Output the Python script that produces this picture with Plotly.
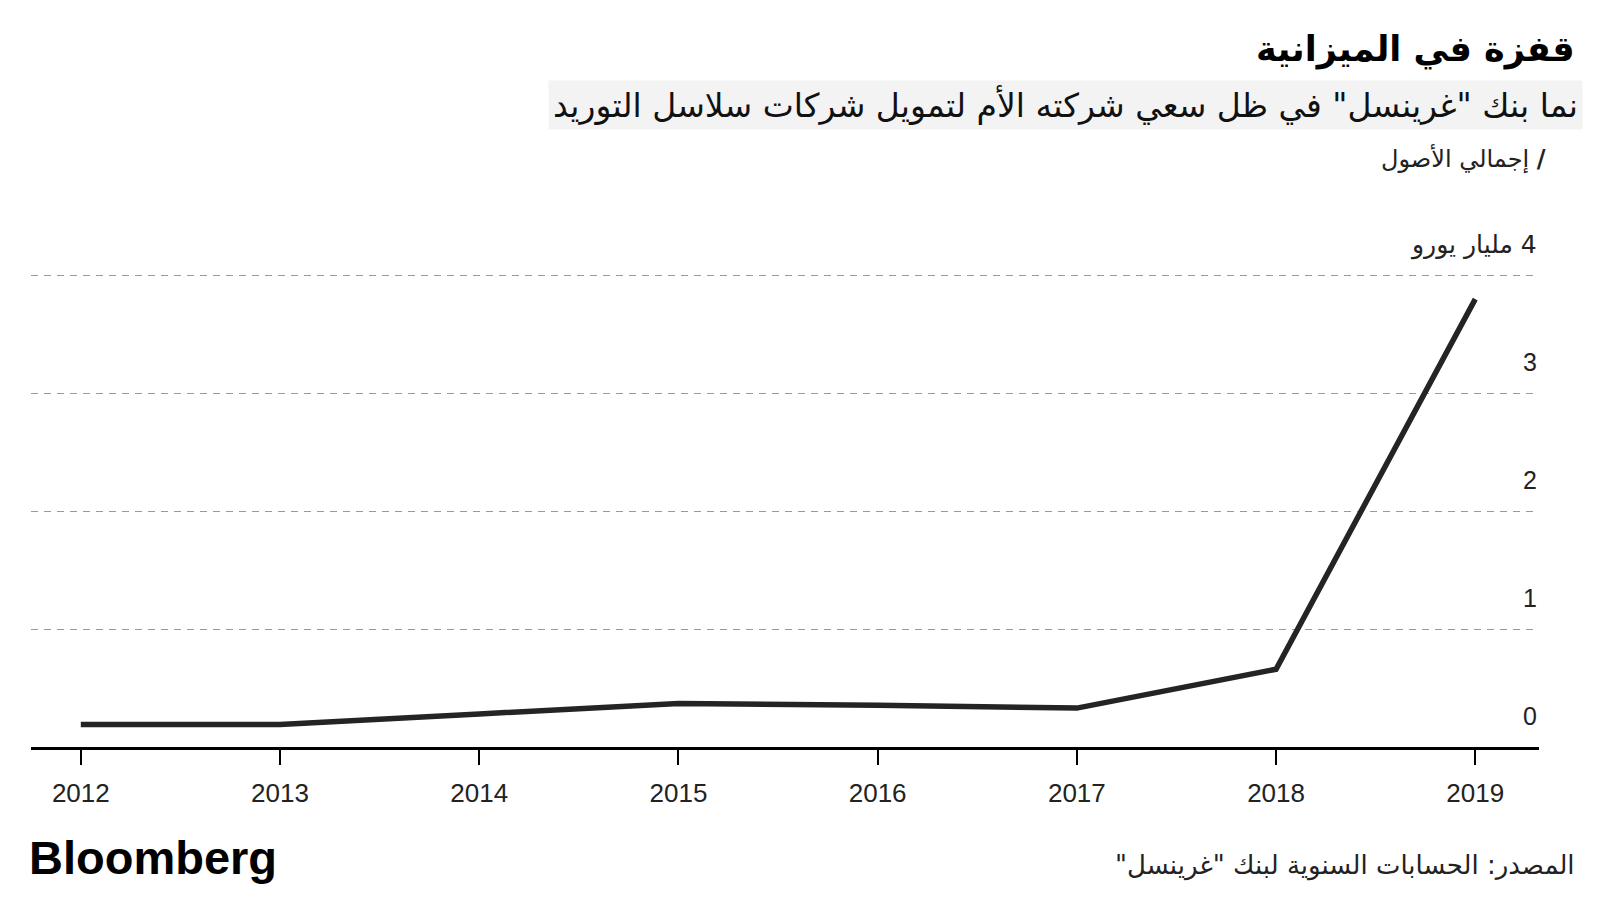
import plotly.graph_objects as go

# ---- data ----
years = [2012, 2013, 2014, 2015, 2016, 2017, 2018, 2019]
total_assets = [0.19, 0.19, 0.28, 0.37, 0.355, 0.33, 0.66, 3.80]  # billion euro
y_ticks = [0, 1, 2, 3, 4]
y_tick_labels = ["0", "1", "2", "3", "4"]
y_unit = "مليار يورو"

title = "قفزة في الميزانية"
subtitle = 'نما بنك "غرينسل" في ظل سعي شركته الأم لتمويل شركات سلاسل التوريد'
legend_label = "إجمالي الأصول"
source = 'المصدر: الحسابات السنوية لبنك "غرينسل"'

RLE, PDF = "\u202b", "\u202c"
def rtl(s):
    return RLE + s + PDF

# page has an 8px body margin; figure sized so the page fits 1600x900
OFF = 8
W, H = 1600 - 2 * OFF, 900 - 2 * OFF
# plot area in page coordinates: x 31..1539, y 252..747
ML = 31 - OFF
MR = W - (1539 - OFF)
MT = 252 - OFF
MB = H - (747 - OFF)
PW = W - ML - MR
PH = H - MT - MB

def px(x):  # page x -> paper
    return (x - OFF - ML) / PW

def py(y):  # page y -> paper
    return (H - MB - (y - OFF)) / PH

ARABIC = "DejaVu Sans"
LATIN = "Liberation Sans, Arial, sans-serif"

fig = go.Figure()
fig.add_trace(go.Scatter(
    x=years, y=total_assets, mode="lines",
    line=dict(color="#242424", width=5.5),
    hoverinfo="skip", showlegend=False,
))

annotations = []
# y tick labels above gridlines
for v, lab in zip(y_ticks, y_tick_labels):
    last = v == y_ticks[-1]
    text = rtl(lab + " " + y_unit) if last else lab
    annotations.append(dict(
        x=1.0, xref="paper", y=v, yref="y", text=text, showarrow=False,
        xanchor="right", yanchor="middle", yshift=31,
        font=dict(family=ARABIC if last else LATIN, size=25, color="#222222"),
    ))

annotations.append(dict(
    x=px(1577), xref="paper", y=py(49), yref="paper", text="<b>" + rtl(title) + "</b>",
    showarrow=False, xanchor="right", yanchor="middle",
    font=dict(family=ARABIC, size=35, color="#000000"),
))
annotations.append(dict(
    x=px(1583), xref="paper", y=py(105), yref="paper", text=rtl(subtitle),
    showarrow=False, xanchor="right", yanchor="middle", bgcolor="#f3f3f3", borderpad=4,
    font=dict(family=ARABIC, size=33, color="#111111"),
))
annotations.append(dict(
    x=px(1548), xref="paper", y=py(159), yref="paper", text=rtl("<b>/</b> " + legend_label),
    showarrow=False, xanchor="right", yanchor="middle",
    font=dict(family=ARABIC, size=24, color="#222222"),
))
annotations.append(dict(
    x=px(27), xref="paper", y=py(857), yref="paper", text="<b>Bloomberg</b>",
    showarrow=False, xanchor="left", yanchor="middle",
    font=dict(family=LATIN, size=47, color="#000000"),
))
annotations.append(dict(
    x=px(1577), xref="paper", y=py(865), yref="paper", text=rtl(source),
    showarrow=False, xanchor="right", yanchor="middle",
    font=dict(family=ARABIC, size=26, color="#222222"),
))

fig.update_layout(
    width=W, height=H,
    margin=dict(l=ML, r=MR, t=MT, b=MB, autoexpand=False),
    paper_bgcolor="white", plot_bgcolor="white",
    annotations=annotations,
    showlegend=False,
)
fig.update_xaxes(
    range=[2011.75, 2019.32], tickvals=years, ticktext=[str(y) for y in years],
    showgrid=False, zeroline=False,
    showline=True, linecolor="#000000", linewidth=2.5,
    ticks="outside", ticklen=15, tickwidth=1.5, tickcolor="#000000",
    ticklabelstandoff=6,
    tickfont=dict(family=LATIN, size=26, color="#222222"),
    fixedrange=True,
)
fig.update_yaxes(
    range=[0, 4.2], tickvals=y_ticks, showticklabels=False,
    showgrid=True, gridcolor="#9a9a9a", gridwidth=1, griddash="7px,6px",
    zeroline=False, showline=False, fixedrange=True,
)

fig.write_html("out.html")
